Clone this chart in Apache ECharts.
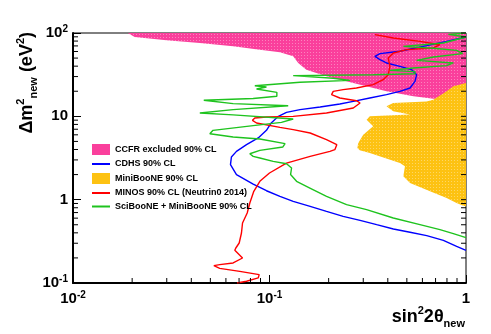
<!DOCTYPE html>
<html>
<head>
<meta charset="utf-8">
<script src="https://cdn.jsdelivr.net/npm/echarts@6/dist/echarts.min.js"></script>
<style>
  html, body { margin: 0; padding: 0; background: #fff; }
  #main { width: 491px; height: 334px; }
</style>
</head>
<body>
<div id="main"></div>
<script>
// axis ranges and tick values
var xRange = [0.01, 1];
var yRange = [0.1, 100];
var xMinorTicks = [0.02, 0.03, 0.04, 0.05, 0.06, 0.07, 0.08, 0.09, 0.2, 0.3, 0.4, 0.5, 0.6, 0.7, 0.8, 0.9];
var yMinorTicks = [0.2, 0.3, 0.4, 0.5, 0.6, 0.7, 0.8, 0.9, 2, 3, 4, 5, 6, 7, 8, 9, 20, 30, 40, 50, 60, 70, 80, 90];
var yMajorTicks = [0.1, 1, 10, 100];

// CCFR excluded region: lower edge (region extends up to the top of the plot)
var ccfrEdge = [[0.0190, 100], [0.0206, 89.5], [0.0299, 81.6], [0.0442, 75.9], [0.0653, 69.2], [0.0893, 63.1],
  [0.113, 58.6], [0.132, 52.5], [0.140, 43.7], [0.154, 36.3], [0.195, 30.2], [0.267, 25.1], [0.394, 20.0],
  [0.540, 17.4], [0.683, 16.3], [1.0, 15.8]];

// MiniBooNE 90% CL region (closed against sin^2 = 1)
var minibooneEdge = [[1.0, 25.1], [0.862, 22.9], [0.797, 20.0], [0.682, 15.85], [0.630, 15.1], [0.426, 14.5],
  [0.394, 13.2], [0.426, 11.5], [0.519, 10.5], [0.324, 10.0], [0.312, 9.1], [0.337, 7.6], [0.300, 6.03],
  [0.283, 4.79], [0.280, 4.17], [0.288, 3.91], [0.324, 3.63], [0.461, 2.75], [0.489, 2.51], [0.480, 1.91],
  [0.519, 1.585], [0.656, 1.26], [0.797, 1.05], [0.895, 0.912], [0.968, 0.847], [1.0, 0.832]];

var cdhs = [[1.0, 89.5], [0.797, 79.4], [0.631, 70.5], [0.461, 60.3], [0.365, 56.5], [0.344, 52.5], [0.365, 47.9],
  [0.394, 43.7], [0.461, 39.8], [0.529, 36.3], [0.561, 31.6], [0.550, 26.3], [0.519, 21.9], [0.461, 19.95],
  [0.394, 18.2], [0.324, 16.6], [0.267, 15.1], [0.228, 14.06], [0.181, 12.94], [0.143, 12.02], [0.122, 11.17],
  [0.111, 10.0], [0.102, 8.32], [0.0965, 6.79], [0.0876, 5.5], [0.0764, 4.57], [0.0679, 3.80], [0.064, 3.25],
  [0.0633, 2.63], [0.0679, 2.0], [0.0826, 1.54], [0.0965, 1.28], [0.113, 1.096], [0.132, 0.955], [0.161, 0.832],
  [0.195, 0.724], [0.237, 0.631], [0.289, 0.565], [0.351, 0.501], [0.427, 0.445], [0.519, 0.406], [0.631, 0.37],
  [0.767, 0.325], [0.896, 0.275], [1.0, 0.247]];

var minos = [[0.344, 95.5], [0.427, 87.1], [0.583, 79.4], [0.737, 72.4], [0.752, 69.2], [0.682, 66.1], [0.499, 63.1],
  [0.427, 57.5], [0.402, 50.1], [0.41, 39.8], [0.402, 31.6], [0.379, 27.5], [0.337, 24.0], [0.277, 21.9],
  [0.237, 20.9], [0.211, 19.95], [0.207, 18.2], [0.228, 16.6], [0.277, 15.4], [0.289, 14.45], [0.267, 12.6],
  [0.195, 10.96], [0.132, 10.0], [0.0965, 9.82], [0.0842, 9.55], [0.0819, 8.95], [0.0859, 8.32], [0.113, 7.38],
  [0.132, 6.92], [0.161, 6.31], [0.195, 5.25], [0.22, 4.57], [0.215, 3.98], [0.203, 3.80], [0.161, 3.31],
  [0.122, 2.75], [0.1, 2.09], [0.0893, 1.66], [0.0832, 1.26], [0.0794, 0.912], [0.077, 0.692], [0.0729, 0.525],
  [0.072, 0.398], [0.0701, 0.302], [0.0674, 0.263], [0.0666, 0.247], [0.0729, 0.1995], [0.0653, 0.174],
  [0.0558, 0.166], [0.0521, 0.1614], [0.0558, 0.15], [0.0706, 0.138], [0.0886, 0.126], [0.0876, 0.115],
  [0.0764, 0.105], [0.0684, 0.1]];

var sciboone = [[1.0, 100], [0.813, 96.4], [1.0, 89.5], [0.767, 75.9], [0.48, 69.2], [0.682, 65.5], [0.896, 61.9],
  [0.962, 56.5], [0.682, 51.5], [0.561, 47.0], [0.862, 43.7], [0.797, 40.6], [0.539, 38.0], [0.41, 35.6],
  [0.55, 34.4], [0.55, 32.5], [0.337, 31.6], [0.132, 30.8], [0.211, 28.6], [0.257, 27.0], [0.143, 25.6],
  [0.0842, 23.3], [0.0965, 22.5], [0.0859, 21.3], [0.109, 19.4], [0.109, 17.4], [0.0826, 16.4], [0.0463, 15.6],
  [0.0653, 14.2], [0.1245, 13.4], [0.0653, 12.02], [0.0442, 10.96], [0.0653, 10.4], [0.132, 9.29], [0.115, 8.47],
  [0.0826, 7.73], [0.0516, 6.79], [0.0497, 6.19], [0.0653, 5.65], [0.0893, 5.35], [0.12, 4.70], [0.117, 4.29],
  [0.0893, 3.91], [0.0794, 3.56], [0.0826, 3.31], [0.0893, 3.16], [0.1044, 2.88], [0.1221, 2.70], [0.1295, 2.40],
  [0.128, 2.0], [0.1373, 1.66], [0.1605, 1.38], [0.1951, 1.096], [0.2467, 0.871], [0.312, 0.759],
  [0.4265, 0.603], [0.583, 0.501], [0.737, 0.437], [0.862, 0.391], [1.0, 0.35]];

var legendNames = ['CCFR excluded 90% CL', 'CDHS 90% CL', 'MiniBooNE 90% CL', 'MINOS 90% CL (Neutrin0 2014)', 'SciBooNE + MiniBooNE 90% CL'];

var FONT = '"Liberation Sans", Arial, sans-serif';
var PINK = '#fa3f9c', YELLOW = '#fdc212';

var myChart = echarts.init(document.getElementById('main'));

function powLabel(v) {
    var e = Math.round(Math.log(v) / Math.LN10);
    if (e === 0) return '{b|1}';
    if (e === 1) return '{b|10}';
    return '{b|10}{s|' + e + '}';
}
var labelRich = {
    b: { fontSize: 15, fontWeight: 'bold', fontFamily: FONT, color: '#000', lineHeight: 18 },
    s: { fontSize: 10, fontWeight: 'bold', fontFamily: FONT, color: '#000', lineHeight: 10, verticalAlign: 'top' }
};

// dotted fill like the ROOT pattern
function dotted(color) {
    var c = document.createElement('canvas');
    c.width = 3; c.height = 3;
    var ctx = c.getContext('2d');
    ctx.fillStyle = color;
    ctx.fillRect(0, 0, 3, 3);
    ctx.fillStyle = 'rgba(255,255,255,0.35)';
    ctx.fillRect(1, 1, 1, 1);
    return { image: c, repeat: 'repeat' };
}

// filled region drawn as one polygon through the axes
function regionSeries(name, pts, color) {
    var fill = dotted(color);
    return {
        name: name, type: 'custom', coordinateSystem: 'cartesian2d',
        data: pts, itemStyle: { color: color }, silent: true, z: 1,
        renderItem: function (params, api) {
            if (params.dataIndex !== 0) return;
            return {
                type: 'polygon',
                shape: { points: pts.map(function (p) { return api.coord(p); }) },
                style: { fill: fill }
            };
        }
    };
}

// inward ticks: dx, dy in pixels
function tickSeries(points, dx, dy) {
    return {
        type: 'custom', coordinateSystem: 'cartesian2d', data: points, silent: true, z: 5, clip: false,
        renderItem: function (params, api) {
            var p = api.coord([api.value(0), api.value(1)]);
            return { type: 'line', shape: { x1: p[0], y1: p[1], x2: p[0] + dx, y2: p[1] + dy },
                     style: { stroke: '#000', lineWidth: 1 } };
        }
    };
}

var ccfrPoly = ccfrEdge.concat([[xRange[1], yRange[1]]]);

function lineSeries(name, data, color) {
    return { name: name, type: 'line', data: data, symbol: 'none', showSymbol: false, z: 3,
             lineStyle: { color: color, width: 1.4 }, itemStyle: { color: color } };
}

var noSymbol = { color: 'rgba(0,0,0,0)', borderWidth: 0 };

var option = {
    animation: false,
    backgroundColor: '#fff',
    grid: { left: 73, top: 33, right: 25, bottom: 51, show: true, borderColor: '#000', borderWidth: 1 },
    xAxis: {
        type: 'log', logBase: 10, min: xRange[0], max: xRange[1],
        axisLine: { lineStyle: { color: '#000', width: 2 } },
        axisTick: { inside: true, length: 8, lineStyle: { color: '#000', width: 1 } },
        axisLabel: { margin: 7, formatter: powLabel, rich: labelRich },
        splitLine: { show: false }
    },
    yAxis: {
        type: 'log', logBase: 10, min: yRange[0], max: yRange[1],
        axisLine: { lineStyle: { color: '#000', width: 2 } },
        axisTick: { inside: true, length: 8, lineStyle: { color: '#000', width: 1 } },
        axisLabel: { margin: 5, formatter: powLabel, rich: labelRich },
        splitLine: { show: false }
    },
    legend: {
        orient: 'vertical', left: 91, top: 144, padding: 0,
        itemWidth: 18, itemHeight: 11, itemGap: 4.5,
        textStyle: { fontSize: 9, fontWeight: 'bold', fontFamily: FONT, color: '#000' },
        data: [
            { name: legendNames[0], icon: 'rect' },
            { name: legendNames[1], itemStyle: noSymbol },
            { name: legendNames[2], icon: 'rect' },
            { name: legendNames[3], itemStyle: noSymbol },
            { name: legendNames[4], itemStyle: noSymbol }
        ]
    },
    graphic: [
        {
            type: 'text', x: 27, y: 32, rotation: Math.PI / 2,
            style: {
                text: '{m|Δm}{sup|2}{sub|new}{m| (eV}{sup|2}{m|)}',
                align: 'right', verticalAlign: 'middle',
                rich: {
                    m: { fontSize: 18, fontWeight: 'bold', fontFamily: FONT, fill: '#000', lineHeight: 24 },
                    sup: { fontSize: 11, fontWeight: 'bold', fontFamily: FONT, fill: '#000', lineHeight: 12, verticalAlign: 'top' },
                    sub: { fontSize: 11, fontWeight: 'bold', fontFamily: FONT, fill: '#000', lineHeight: 12, verticalAlign: 'bottom' }
                }
            }
        },
        {
            type: 'text', x: 465, y: 317,
            style: {
                text: '{m|sin}{sup|2}{m|2θ}{sub|new}',
                align: 'right', verticalAlign: 'middle',
                rich: {
                    m: { fontSize: 18, fontWeight: 'bold', fontFamily: FONT, fill: '#000', lineHeight: 24 },
                    sup: { fontSize: 11, fontWeight: 'bold', fontFamily: FONT, fill: '#000', lineHeight: 12, verticalAlign: 'top' },
                    sub: { fontSize: 11, fontWeight: 'bold', fontFamily: FONT, fill: '#000', lineHeight: 12, verticalAlign: 'bottom' }
                }
            }
        }
    ],
    series: [
        regionSeries(legendNames[0], ccfrPoly, PINK),
        regionSeries(legendNames[2], minibooneEdge, YELLOW),
        lineSeries(legendNames[1], cdhs, '#0000ff'),
        lineSeries(legendNames[3], minos, '#ff0000'),
        lineSeries(legendNames[4], sciboone, '#1ec31e'),
        tickSeries(xMinorTicks.map(function (v) { return [v, yRange[0]]; }), 0, -5),
        tickSeries(yMinorTicks.map(function (v) { return [xRange[0], v]; }), 5, 0),
        tickSeries(yMinorTicks.concat(yMajorTicks).map(function (v) { return [xRange[1], v]; }), -5, 0)
    ]
};

myChart.setOption(option);
</script>
</body>
</html>
